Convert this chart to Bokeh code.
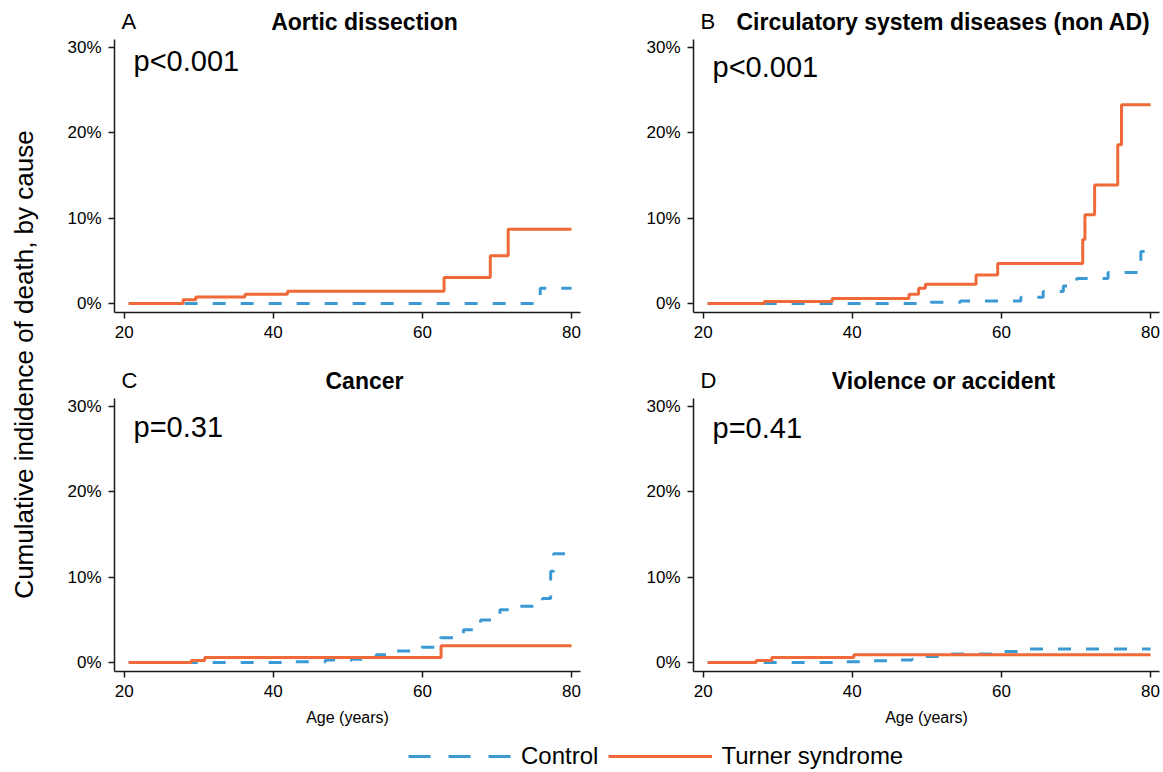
import math
from bokeh.plotting import figure
from bokeh.models import (Range1d, FixedTicker, PrintfTickFormatter, Label,
                          Legend, LegendItem)
from bokeh.layouts import row, column
from bokeh.embed import file_html
from bokeh.resources import INLINE

# ---------------- data (age in years, cumulative incidence in %) ----------------
panel_letters = ["A", "B", "C", "D"]
panel_titles = ["Aortic dissection", "Circulatory system diseases (non AD)",
                "Cancer", "Violence or accident"]
p_values = ["p<0.001", "p<0.001", "p=0.31", "p=0.41"]
series_names = ["Control", "Turner syndrome"]
x_ticks = [20, 40, 60, 80]
y_ticks = [0, 10, 20, 30]
x_label = "Age (years)"
y_label = "Cumulative indidence of death, by cause"

A_ctrl_age = [20.6, 75.8, 80.0]
A_ctrl_ci = [0.0, 1.8, 1.8]
A_ts_age = [20.6, 27.9, 29.6, 36.2, 41.9, 62.9, 69.1, 71.5, 80.0]
A_ts_ci = [0.0, 0.43, 0.78, 1.1, 1.45, 3.05, 5.6, 8.7, 8.7]

B_ctrl_age = [20.6, 50.5, 54.5, 62.6, 65.6, 68.3, 70.1, 74.3, 78.7, 79.7]
B_ctrl_ci = [0.0, 0.15, 0.31, 0.75, 1.4, 2.07, 2.93, 3.64, 6.1, 6.1]
B_ts_age = [20.6, 28.2, 37.3, 47.6, 48.9, 49.8, 56.6, 59.5, 70.9, 71.2, 72.5, 75.6, 76.1, 80.0]
B_ts_ci = [0.0, 0.23, 0.59, 1.1, 1.8, 2.27, 3.36, 4.69, 7.5, 10.4, 13.9, 18.6, 23.3, 23.3]

C_ctrl_age = [20.6, 43.0, 47.0, 50.5, 53.8, 56.6, 59.9, 62.4, 65.5, 67.8, 70.4, 72.8, 76.1, 77.2, 77.6, 79.5]
C_ctrl_ci = [0.0, 0.1, 0.3, 0.4, 0.9, 1.35, 1.8, 2.9, 3.85, 5.0, 6.2, 6.6, 7.5, 10.7, 12.75, 12.75]
C_ts_age = [20.6, 29.0, 30.8, 62.5, 80.0]
C_ts_ci = [0.0, 0.24, 0.59, 1.96, 1.96]

D_ctrl_age = [20.6, 38.0, 42.0, 45.5, 48.0, 48.6, 52.5, 59.3, 62.4, 80.0]
D_ctrl_ci = [0.0, 0.1, 0.2, 0.3, 0.4, 0.7, 1.0, 1.3, 1.6, 1.6]
D_ts_age = [20.6, 27.1, 29.2, 40.2, 80.0]
D_ts_ci = [0.0, 0.23, 0.59, 0.9, 0.9]

# ---------------- style ----------------
FONT = "Liberation Sans"
ORANGE = "#EF6A38"
BLUE = "#3B9AD4"
AXIS_COLOR = "#1a1a1a"
FW, FH = 466, 273          # plotting area (axes box) size in px
X_LO, X_HI = 18.7, 81.2
Y_LO, Y_HI = -1.05, 30.95


def make_panel(idx, ctrl_age, ctrl_ci, ts_age, ts_ci, width, height,
               bl, br, top, bb, show_xlabel, pdrop):
    # the frame reaches the top of the figure so that the title texts are inside it;
    # the y axis line is bounded to the real data area
    per_px = (Y_HI - Y_LO) / FH
    p = figure(width=width, height=height, output_backend="svg",
               toolbar_location=None,
               x_range=Range1d(X_LO, X_HI),
               y_range=Range1d(Y_LO, Y_HI + top * per_px),
               min_border_left=bl, min_border_right=br,
               min_border_top=0, min_border_bottom=bb)
    p.grid.visible = False
    p.outline_line_color = None
    p.background_fill_color = "white"
    p.border_fill_color = "white"

    p.step(ctrl_age, ctrl_ci, mode="after", line_color=BLUE, line_width=3,
           line_dash="13 15")
    p.step(ts_age, ts_ci, mode="after", line_color=ORANGE, line_width=3)

    p.xaxis.ticker = FixedTicker(ticks=x_ticks)
    p.yaxis.ticker = FixedTicker(ticks=y_ticks)
    p.yaxis.formatter = PrintfTickFormatter(format="%d%%")
    p.yaxis.bounds = (Y_LO, Y_HI)
    for ax in (p.xaxis[0], p.yaxis[0]):
        ax.axis_line_color = AXIS_COLOR
        ax.axis_line_width = 1.5
        ax.major_tick_line_color = AXIS_COLOR
        ax.major_tick_line_width = 1.5
        ax.major_tick_out = 6
        ax.major_tick_in = 0
        ax.minor_tick_line_color = None
        ax.major_label_text_font = FONT
        ax.major_label_text_font_size = "17px"
        ax.major_label_text_color = "black"
        ax.major_label_standoff = 7
    if show_xlabel:
        p.xaxis.axis_label = x_label
        p.xaxis.axis_label_text_font = FONT
        p.xaxis.axis_label_text_font_size = "16px"
        p.xaxis.axis_label_text_font_style = "normal"
        p.xaxis.axis_label_text_color = "black"
        p.xaxis.axis_label_standoff = 9

    p.add_layout(Label(x=7, y=FH + 18, x_units="screen", y_units="screen",
                       text=panel_letters[idx], text_font=FONT,
                       text_baseline="alphabetic",
                       text_font_size="22px", text_color="black"))
    p.add_layout(Label(x=FW / 2 + 17, y=FH + 18, x_units="screen", y_units="screen",
                       text=panel_titles[idx], text_font=FONT, text_align="center",
                       text_baseline="alphabetic",
                       text_font_size="23px", text_font_style="bold",
                       text_color="black"))
    p.add_layout(Label(x=19, y=FH - pdrop, x_units="screen", y_units="screen",
                       text=p_values[idx], text_font=FONT,
                       text_baseline="alphabetic",
                       text_font_size="29px", text_color="black"))
    return p


pA = make_panel(0, A_ctrl_age, A_ctrl_ci, A_ts_age, A_ts_ci, 550, 355, 64, 20, 39, 43, False, 21)
pB = make_panel(1, B_ctrl_age, B_ctrl_ci, B_ts_age, B_ts_ci, 563, 355, 93, 4, 39, 43, False, 27)
pC = make_panel(2, C_ctrl_age, C_ctrl_ci, C_ts_age, C_ts_ci, 550, 375, 64, 20, 43, 59, True, 28)
pD = make_panel(3, D_ctrl_age, D_ctrl_ci, D_ts_age, D_ts_ci, 563, 375, 93, 4, 43, 59, True, 29)

# y-axis title column
yl = figure(width=50, height=730, output_backend="svg", toolbar_location=None,
            min_border=0, x_axis_location=None, y_axis_location=None,
            x_range=Range1d(0, 1), y_range=Range1d(0, 1))
yl.outline_line_color = None
yl.grid.visible = False
yl.add_layout(Label(x=23, y=730 - 364, x_units="screen", y_units="screen",
                    text=y_label, angle=math.pi / 2, text_align="center",
                    text_baseline="middle", text_font=FONT,
                    text_font_size="26px", text_color="black"))

# legend strip: the series of panel A are drawn here but fall outside its view,
# they only serve as the legend's renderers
lg = figure(width=1163, height=42, output_backend="svg", toolbar_location=None,
            min_border=0, x_axis_location=None, y_axis_location=None,
            x_range=Range1d(0, 1), y_range=Range1d(0, 1))
lg.outline_line_color = None
lg.grid.visible = False
r1 = lg.step(A_ctrl_age, A_ctrl_ci, mode="after", line_color=BLUE, line_width=3,
             line_dash="22 18")
r2 = lg.step(A_ts_age, A_ts_ci, mode="after", line_color=ORANGE, line_width=3)
legend = Legend(items=[LegendItem(label=series_names[0], renderers=[r1]),
                       LegendItem(label=series_names[1], renderers=[r2])],
                orientation="horizontal", location=(408, 2),
                padding=0, margin=0, spacing=10, label_standoff=9,
                glyph_width=104, glyph_height=26, label_height=26,
                label_text_font=FONT, label_text_font_size="24px",
                label_text_color="black",
                border_line_color=None, background_fill_alpha=0)
lg.add_layout(legend)

layout = column(row(yl, column(row(pA, pB), row(pC, pD))), lg)

with open("out.html", "w") as f:
    f.write(file_html(layout, INLINE))
